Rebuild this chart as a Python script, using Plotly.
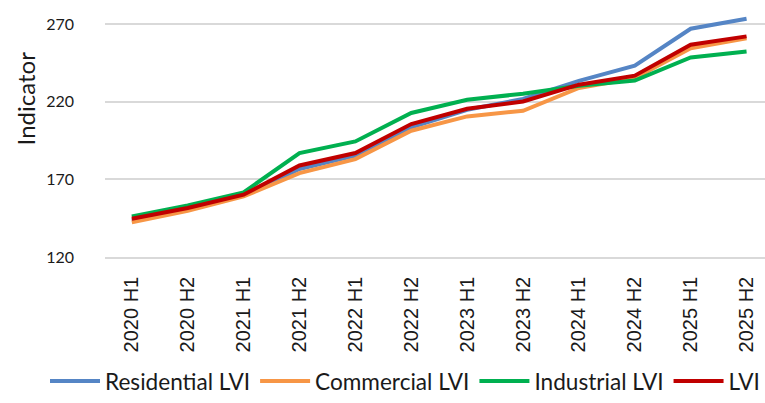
import plotly.graph_objects as go

categories = ["2020 H1", "2020 H2", "2021 H1", "2021 H2", "2022 H1", "2022 H2",
              "2023 H1", "2023 H2", "2024 H1", "2024 H2", "2025 H1", "2025 H2"]
residential = [143.5, 150.5, 159.5, 176.6, 185.2, 203.4, 214.8, 221.7, 233.4, 243.1, 266.9, 273.3]
commercial = [142.3, 149.8, 159.0, 174.0, 183.0, 201.3, 210.5, 214.1, 228.8, 235.2, 254.4, 260.7]
industrial = [146.1, 153.2, 161.6, 186.9, 194.4, 212.7, 221.2, 225.1, 230.2, 233.6, 248.4, 252.3]
lvi = [144.6, 151.5, 160.1, 178.9, 186.9, 205.6, 215.4, 220.1, 230.9, 236.7, 256.6, 262.0]
y_ticks = [120, 170, 220, 270]

series = [
    ("Residential LVI", residential, "#5585C5"),
    ("Commercial LVI", commercial, "#F79646"),
    ("Industrial LVI", industrial, "#00B050"),
    ("LVI", lvi, "#C00000"),
]

fig = go.Figure()
for name, vals, color in series:
    fig.add_trace(go.Scatter(x=categories, y=vals, mode="lines", name=name,
                             line=dict(color=color, width=4)))

fig.update_layout(
    width=765, height=403,
    margin=dict(l=105, r=0, t=5, b=146),
    paper_bgcolor="white", plot_bgcolor="white",
    font=dict(family="Lato", size=16, color="#1a1a1a"),
    showlegend=True,
    legend=dict(orientation="h", xref="paper", yref="paper",
                x=-0.0905, xanchor="left", y=-0.579, yanchor="bottom",
                font=dict(family="Lato", size=22.6, color="#1a1a1a"),
                itemwidth=50, tracegroupgap=0),
    annotations=[dict(text="Indicator", textangle=-90, xref="paper", yref="paper",
                      x=-0.121, y=0.63, xanchor="center", yanchor="middle",
                      showarrow=False, font=dict(family="Lato", size=24, color="#1a1a1a"))],
)
fig.update_xaxes(
    type="category", range=[-0.48, 11.33],
    showgrid=False, showline=True, linecolor="#D9D9D9", linewidth=1.5,
    ticks="", tickangle=-90, ticklabelstandoff=10,
    tickfont=dict(family="Liberation Sans", size=20, color="#1a1a1a"),
)
fig.update_yaxes(
    range=[120, 282.2], tickvals=y_ticks,
    showgrid=True, gridcolor="#D9D9D9", gridwidth=1.5,
    zeroline=False, showline=False, ticks="", ticklabelstandoff=30,
    tickfont=dict(family="Lato", size=16, color="#1a1a1a"),
)

fig.write_html("out.html", config={"displayModeBar": False},
               post_script="document.body.style.margin='0';document.body.style.padding='0';")
